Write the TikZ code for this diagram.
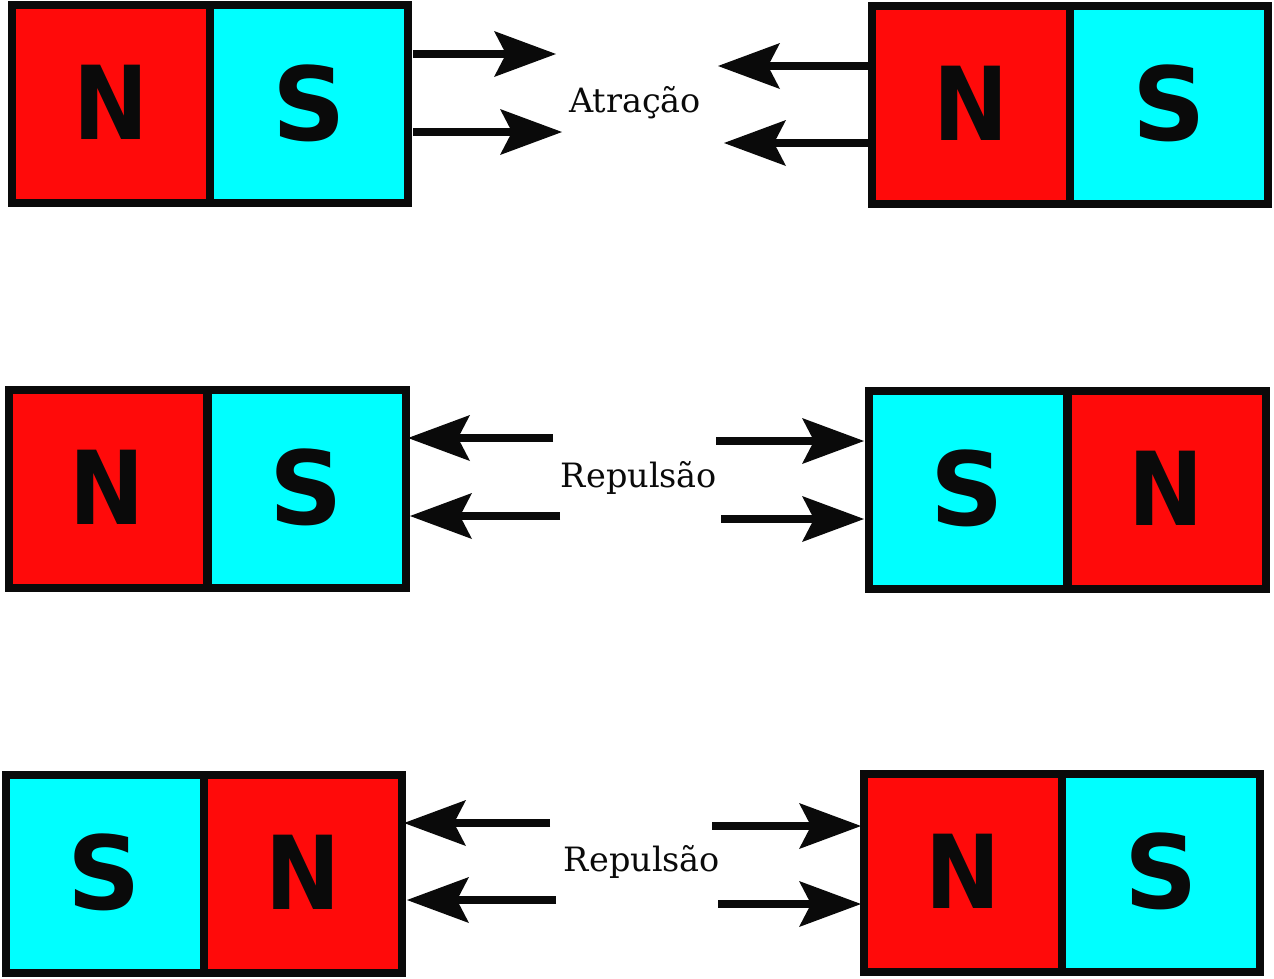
\documentclass[tikz,border=0pt]{standalone}
\usepackage{fontspec}
\usepackage{graphicx}
\setmainfont{DejaVu Serif}
\newfontfamily\polefont{DejaVu Sans}
\usetikzlibrary{arrows.meta}
\definecolor{nred}{RGB}{255,10,10}
\definecolor{scyan}{RGB}{0,255,255}
\definecolor{ink}{RGB}{10,10,10}
\tikzset{
  pole/.style={draw=ink, line width=8pt, minimum width=198pt, minimum height=198pt,
    inner sep=0pt, text=ink, font={\polefont\bfseries\fontsize{102}{102}\selectfont}},
  npole/.style={pole, fill=nred},
  spole/.style={pole, fill=scyan},
  force/.style={draw=ink, line width=8pt,
    -{Stealth[length=62pt, width=46pt, inset=12pt, line width=0pt]}},
  lbl/.style={font=\fontsize{33.5}{33.5}\selectfont, text=ink, anchor=base, inner sep=0pt}
}
\newcommand{\Nglyph}{\raisebox{3pt}{\scalebox{0.88}[1]{N}}}
\newcommand{\Sglyph}{\raisebox{3pt}{S}}
\begin{document}
\begin{tikzpicture}[x=1pt, y=-1pt]
\useasboundingbox (0,0) rectangle (1274,978);
% Row 1
\node[npole] (r1ln) at (111,104) {\Nglyph};
\node[spole] (r1ls) at (309,104) {\Sglyph};
\node[npole] (r1rn) at (971,104.5) {\Nglyph};
\node[spole] (r1rs) at (1169,104.5) {\Sglyph};
\coordinate (a1s) at (413,54);  \coordinate (a1e) at (556,54);
\coordinate (a2s) at (413,132); \coordinate (a2e) at (562,132);
\coordinate (a3s) at (868,66);  \coordinate (a3e) at (718,66);
\coordinate (a4s) at (868,143); \coordinate (a4e) at (724,143);
\draw[force] (a1s) -- (a1e);
\draw[force] (a2s) -- (a2e);
\draw[force] (a3s) -- (a3e);
\draw[force] (a4s) -- (a4e);
\node[lbl] (t1) at (635,112) {Atração};
% Row 2
\node[npole] (r2ln) at (107.5,488.5) {\Nglyph};
\node[spole] (r2ls) at (306.5,488.5) {\Sglyph};
\node[spole] (r2rs) at (967.5,489.5) {\Sglyph};
\node[npole] (r2rn) at (1166.5,489.5) {\Nglyph};
\coordinate (b1s) at (553,438); \coordinate (b1e) at (408,438);
\coordinate (b2s) at (560,516); \coordinate (b2e) at (410,516);
\coordinate (b3s) at (716,441); \coordinate (b3e) at (864,441);
\coordinate (b4s) at (721,519); \coordinate (b4e) at (864,519);
\draw[force] (b1s) -- (b1e);
\draw[force] (b2s) -- (b2e);
\draw[force] (b3s) -- (b3e);
\draw[force] (b4s) -- (b4e);
\node[lbl] (t2) at (639,487) {Repulsão};
% Row 3
\node[spole] (r3ls) at (104.5,873.5) {\Sglyph};
\node[npole] (r3ln) at (303,873.5) {\Nglyph};
\node[npole] (r3rn) at (963,872.5) {\Nglyph};
\node[spole] (r3rs) at (1161,872.5) {\Sglyph};
\coordinate (c1s) at (550,823); \coordinate (c1e) at (404,823);
\coordinate (c2s) at (556,900); \coordinate (c2e) at (407,900);
\coordinate (c3s) at (712,826); \coordinate (c3e) at (861,826);
\coordinate (c4s) at (718,904); \coordinate (c4e) at (861,904);
\draw[force] (c1s) -- (c1e);
\draw[force] (c2s) -- (c2e);
\draw[force] (c3s) -- (c3e);
\draw[force] (c4s) -- (c4e);
\node[lbl] (t3) at (642,871) {Repulsão};
\end{tikzpicture}
\end{document}
